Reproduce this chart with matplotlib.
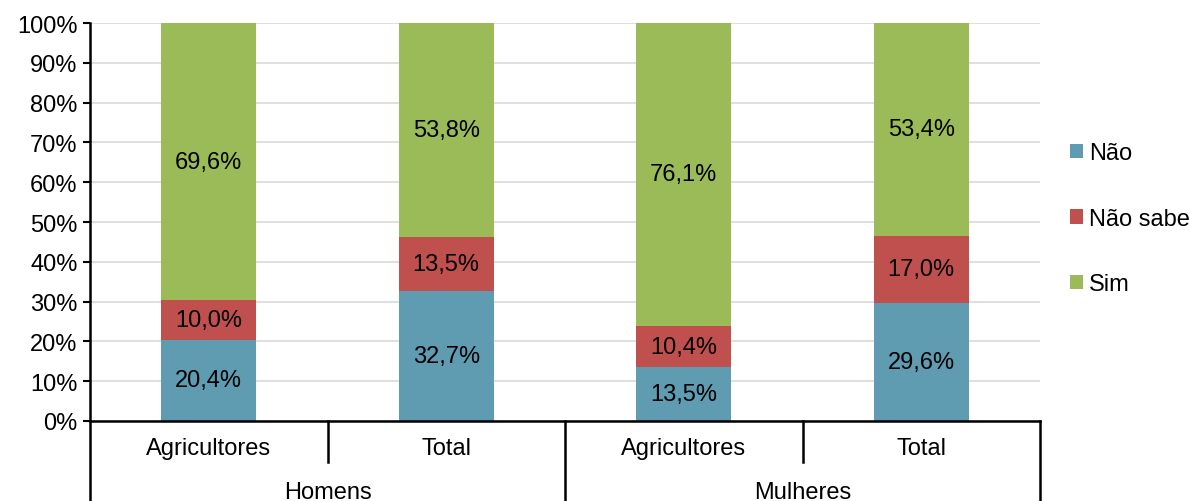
import matplotlib.pyplot as plt
import numpy as np

plt.rcParams['font.family'] = ['Liberation Sans', 'DejaVu Sans']

groups = ['Homens', 'Mulheres']
categories = ['Agricultores', 'Total', 'Agricultores', 'Total']
series = ['Não', 'Não sabe', 'Sim']
nao = [20.4, 32.7, 13.5, 29.6]
nao_sabe = [10.0, 13.5, 10.4, 17.0]
sim = [69.6, 53.8, 76.1, 53.4]
colors = ['#5F9BB1', '#C0504D', '#9BBB59']

fs = 17

fig = plt.figure(figsize=(11.9, 5.02), dpi=100)
ax = fig.add_axes([90 / 1190, 1 - 422 / 502, 950 / 1190, 398 / 502])

x = np.arange(len(categories))
bottom = np.zeros(len(categories))
handles = []
for vals, name, col in zip([nao, nao_sabe, sim], series, colors):
    vals = np.array(vals)
    b = ax.bar(x, vals, width=0.4, bottom=bottom, color=col, label=name, zorder=2)
    handles.append(b)
    for xi, v, bt in zip(x, vals, bottom):
        ax.text(xi, bt + v / 2, f'{v:.1f}%'.replace('.', ','), ha='center', va='center',
                fontsize=fs, color='black', zorder=3)
    bottom = bottom + vals

ax.set_xlim(-0.5, 3.5)
ax.set_ylim(0, 100)
ax.set_yticks(np.arange(0, 101, 10))
ax.set_yticklabels([f'{t}%' for t in range(0, 101, 10)], fontsize=fs)
ax.yaxis.grid(True, color='#D9D9D9', linewidth=1.2, zorder=0)
ax.set_axisbelow(True)
ax.tick_params(axis='y', length=5, width=1.5, pad=4)
ax.tick_params(axis='x', length=0)
ax.set_xticks([])
for s in ['top', 'right']:
    ax.spines[s].set_visible(False)
ax.spines['left'].set_linewidth(1.8)
ax.spines['bottom'].set_linewidth(1.8)

# multi-level category axis
trans = ax.get_xaxis_transform()
for xs in [0.5, 2.5]:
    ax.plot([xs, xs], [0, -0.103], transform=trans, color='black', lw=1.8, clip_on=False)
for xs in [-0.5, 1.5, 3.5]:
    ax.plot([xs, xs], [0, -0.21], transform=trans, color='black', lw=1.8, clip_on=False)
for xi, c in zip(x, categories):
    ax.text(xi, -0.068, c, transform=trans, ha='center', va='center', fontsize=fs)
for gi, g in enumerate(groups):
    ax.text(gi * 2 + 0.5, -0.178, g, transform=trans, ha='center', va='center', fontsize=fs)

leg = ax.legend(handles=handles, loc='center left', bbox_to_anchor=(1.022, 0.508),
                frameon=False, fontsize=fs, handlelength=0.55, handleheight=0.55,
                handletextpad=0.25, labelspacing=1.85, borderaxespad=0)

fig.savefig('out.png', dpi=100)
